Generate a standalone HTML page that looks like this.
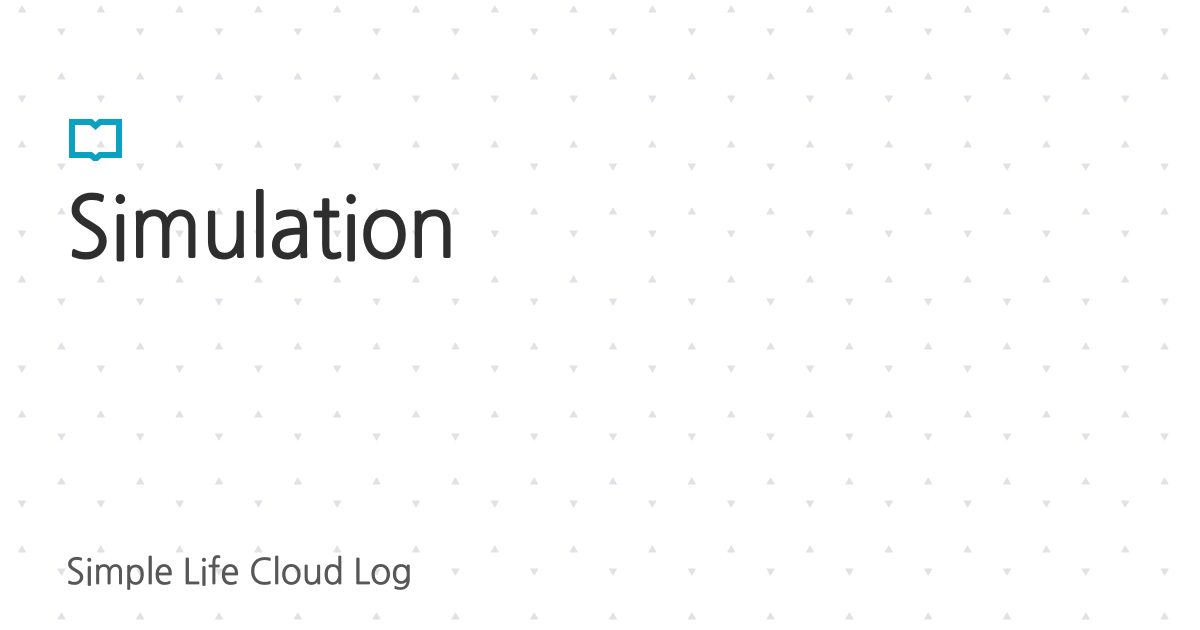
<!DOCTYPE html>
<html><head><meta charset="utf-8"><style>
html,body{margin:0;padding:0;background:#fff;width:1200px;height:630px;overflow:hidden;position:relative}
svg.bg{position:absolute;left:0;top:0}
.t{position:absolute;left:67px;top:186px;font-family:"NanumGothic","Liberation Sans",sans-serif;font-size:84px;color:#2e2e2e;line-height:1;-webkit-text-stroke:2px #2e2e2e;transform:scaleX(0.945);transform-origin:0 0;white-space:nowrap}
.s{position:absolute;left:66px;top:555px;font-family:"NanumGothic","Liberation Sans",sans-serif;font-size:35px;color:#575757;line-height:1;-webkit-text-stroke:0.7px #575757;transform:scaleX(0.99);transform-origin:0 0;white-space:nowrap}
</style></head><body>
<svg class="bg" width="1200" height="630" id="bg"></svg>
<svg style="position:absolute;left:69px;top:119px" width="53" height="42" viewBox="0 0 53 42">
<path d="M3 3 H22 L26.5 7 L31 3 H50 V36 H31 L26.5 40 L22 36 H3 Z" fill="none" stroke="#0aa2c0" stroke-width="6" stroke-linejoin="miter"/>
</svg>
<div class="t">Simulation</div>
<div class="s">Simple Life Cloud Log</div>
<script>
var s='';
for(var i=0;i<30;i++){
 var x=22+39.4*i;
 var even=i%2==0;
 for(var k=-1;k<6;k++){
  var b=k*135;
  var ys=even?[[9+b,1],[99+b,0]]:[[32+b,0],[76+b,1]];
  ys.forEach(function(p){
   var y=p[0];if(y<-5||y>640)return;
   if(p[1]) s+='<path d="M'+(x-3.5)+' '+(y+3)+' L'+x+' '+(y-3)+' L'+(x+3.5)+' '+(y+3)+' Z" fill="#dfe2e6" stroke="#dfe2e6" stroke-linejoin="round" stroke-width="1"/>';
   else s+='<path d="M'+(x-3.5)+' '+(y-3)+' L'+x+' '+(y+3)+' L'+(x+3.5)+' '+(y-3)+' Z" fill="#dfe2e6" stroke="#dfe2e6" stroke-linejoin="round" stroke-width="1"/>';
  });
 }
}
document.getElementById('bg').innerHTML=s;
</script>
</body></html>
